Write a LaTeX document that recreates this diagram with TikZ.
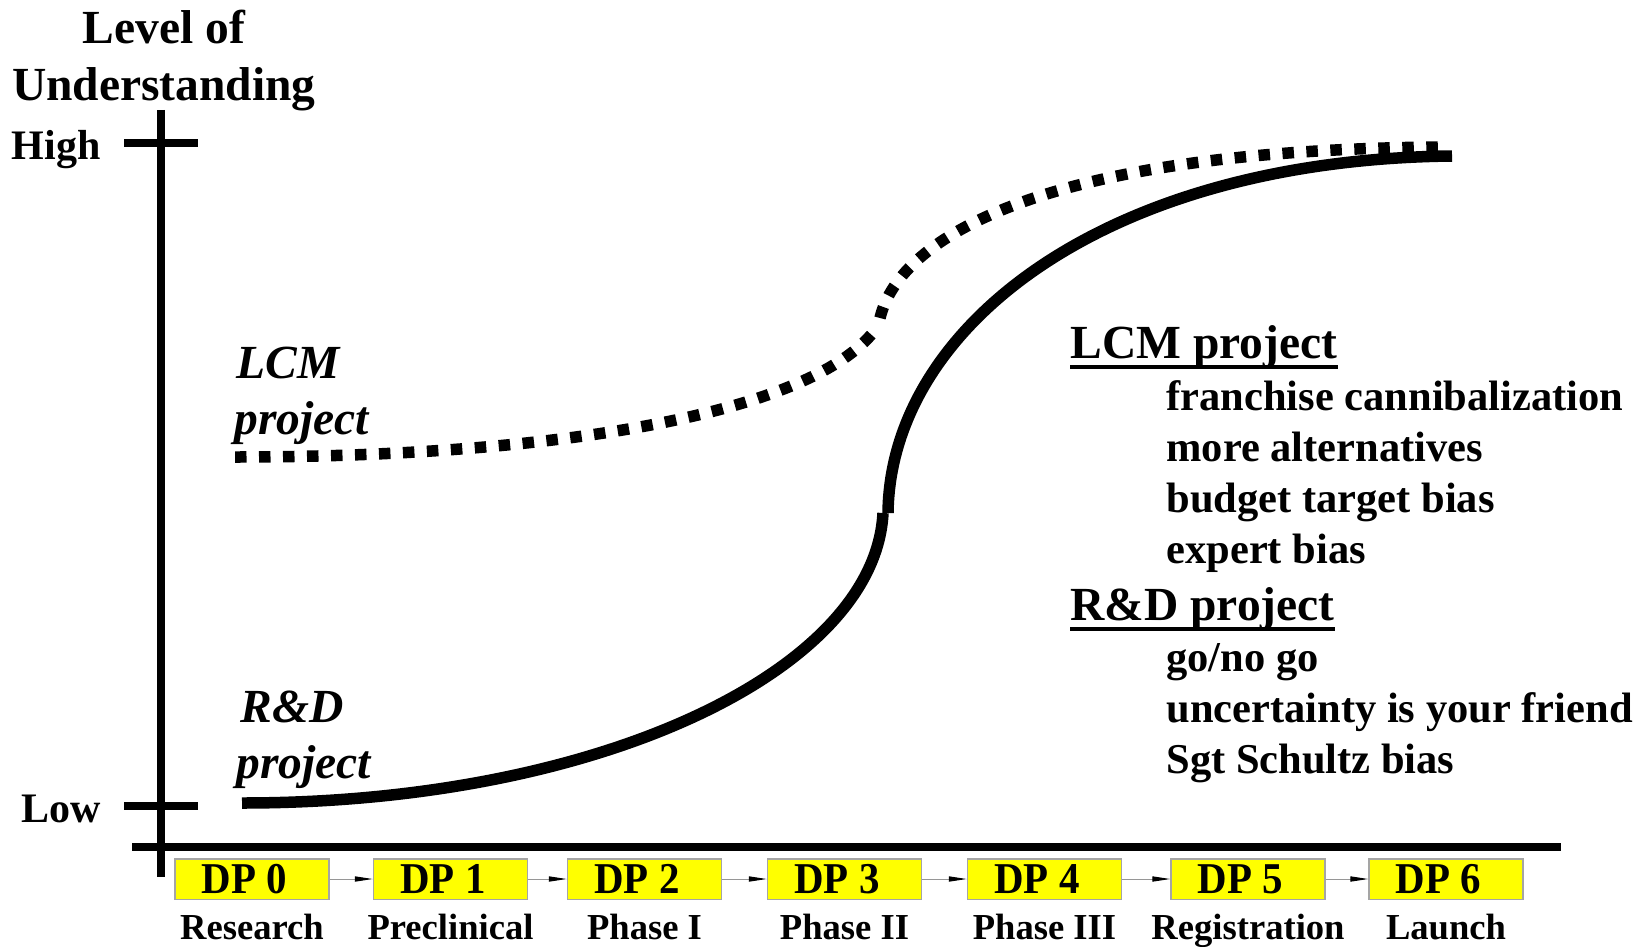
\documentclass[tikz,border=0pt]{standalone}
\usepackage{fontspec}
\setmainfont{Liberation Serif}
\usetikzlibrary{arrows.meta}
\definecolor{boxgray}{RGB}{165,165,165}
\definecolor{linegray}{RGB}{150,150,150}
\definecolor{dpyellow}{RGB}{255,255,0}
% label of a decision point, set a little narrow and left of the box centre
\newcommand{\dplabel}[1]{\scalebox{0.93}[1]{DP #1}\kern7.5pt}
\begin{document}
\begin{tikzpicture}[x=0.5pt,y=-0.5pt,
  axis/.style={line width=4.15pt},
  curve/.style={line width=5.75pt},
  dotcurve/.style={line width=5.75pt, dash pattern=on 5.75pt off 6.25pt},
  title/.style={inner sep=0pt, font=\bfseries\fontsize{23.75}{28}\selectfont},
  tick/.style={inner sep=0pt, font=\bfseries\fontsize{21}{25}\selectfont},
  curvelabel/.style={inner sep=0pt, anchor=base west, font=\bfseries\itshape\fontsize{23.75}{28}\selectfont},
  head/.style={inner sep=0pt, anchor=base west, font=\bfseries\fontsize{23.75}{28}\selectfont},
  item/.style={inner sep=0pt, anchor=base west, font=\bfseries\fontsize{21.25}{25}\selectfont},
  dpbox/.style={draw=boxgray, line width=0.75pt, fill=dpyellow, minimum width=77pt,
    minimum height=20.25pt, inner sep=0pt, font=\bfseries\fontsize{22}{26}\selectfont},
  phase/.style={inner sep=0pt, anchor=base, font=\bfseries\fontsize{18.3}{22}\selectfont},
  flow/.style={draw=linegray, line width=0.5pt, -{Triangle[length=9pt,width=2.6pt,color=black]}},
  underline/.style={line width=1.8pt}
]
\useasboundingbox (0,0) rectangle (1643,947);

% axis title
\node[title, anchor=base] (ttl1) at (164,43.5) {Level of};
\node[title, anchor=base] (ttl2) at (164,100.5) {Understanding};

% axes and ticks
\coordinate (ytop) at (161,110);
\coordinate (ybot) at (161,877);
\coordinate (xleft) at (132,847);
\coordinate (xright) at (1561,847);
\draw[axis] (ytop) -- (ybot);
\draw[axis] (xleft) -- (xright);
\coordinate (hiL) at (124,143);
\coordinate (hiR) at (198,143);
\coordinate (loL) at (124,806);
\coordinate (loR) at (198,806);
\draw[axis] (hiL) -- (hiR);
\draw[axis] (loL) -- (loR);
\node[tick, anchor=base east] (high) at (101,159.3) {High};
\node[tick, anchor=base east] (low) at (101,822.5) {Low};

% LCM project curve (dotted)
\draw[dotcurve] (235,457) .. controls (550,457) and (810,415) .. (875,330);
\draw[dotcurve] (880,318) .. controls (900,235) and (1050,150) .. (1440,147);

% R&D project curve (solid)
\draw[curve] (242,803) .. controls (600,803) and (875,670) .. (883,513);
\draw[curve] (888,513) .. controls (890,330) and (1100,160) .. (1452,156);

% curve labels
\node[curvelabel] (lcmA) at (236,378.5) {LCM};
\node[curvelabel] (lcmB) at (234,434) {project};
\node[curvelabel] (rdA) at (240,722) {R\&D};
\node[curvelabel] (rdB) at (236,778) {project};

% notes
\node[head] (h1) at (1070,358.5) {LCM project};
\draw[underline] ([yshift=-4.2pt]h1.base west) -- ([yshift=-4.2pt]h1.base east);
\node[item] (i1) at (1166,410.5) {franchise cannibalization};
\node[item] (i2) at (1166,461.5) {more alternatives};
\node[item] (i3) at (1166,512.5) {budget target bias};
\node[item] (i4) at (1166,563.5) {expert bias};
\node[head] (h2) at (1070,620.5) {R\&D project};
\draw[underline] ([yshift=-4.2pt]h2.base west) -- ([yshift=-4.2pt]h2.base east);
\node[item] (i5) at (1166,671.5) {go/no go};
\node[item] (i6) at (1166,722.5) {uncertainty is your friend};
\node[item] (i7) at (1166,773) {Sgt Schultz bias};

% decision points
\node[dpbox] (b0) at (252,879)    {\dplabel{0}};
\node[dpbox] (b1) at (450.5,879)  {\dplabel{1}};
\node[dpbox] (b2) at (644.5,879)  {\dplabel{2}};
\node[dpbox] (b3) at (844.5,879)  {\dplabel{3}};
\node[dpbox] (b4) at (1044.5,879) {\dplabel{4}};
\node[dpbox] (b5) at (1248,879)   {\dplabel{5}};
\node[dpbox] (b6) at (1446,879)   {\dplabel{6}};
\draw[flow] (b0.east) -- (b1.west);
\draw[flow] (b1.east) -- (b2.west);
\draw[flow] (b2.east) -- (b3.west);
\draw[flow] (b3.east) -- (b4.west);
\draw[flow] (b4.east) -- (b5.west);
\draw[flow] (b5.east) -- (b6.west);

% phase names
\node[phase] (p0) at (252,939.5)    {Research};
\node[phase] (p1) at (450.5,939.5)  {Preclinical};
\node[phase] (p2) at (644.5,939.5)  {Phase I};
\node[phase] (p3) at (844.5,939.5)  {Phase II};
\node[phase] (p4) at (1044.5,939.5) {Phase III};
\node[phase] (p5) at (1248,939.5)   {Registration};
\node[phase] (p6) at (1446,939.5)   {Launch};
\end{tikzpicture}
\end{document}
